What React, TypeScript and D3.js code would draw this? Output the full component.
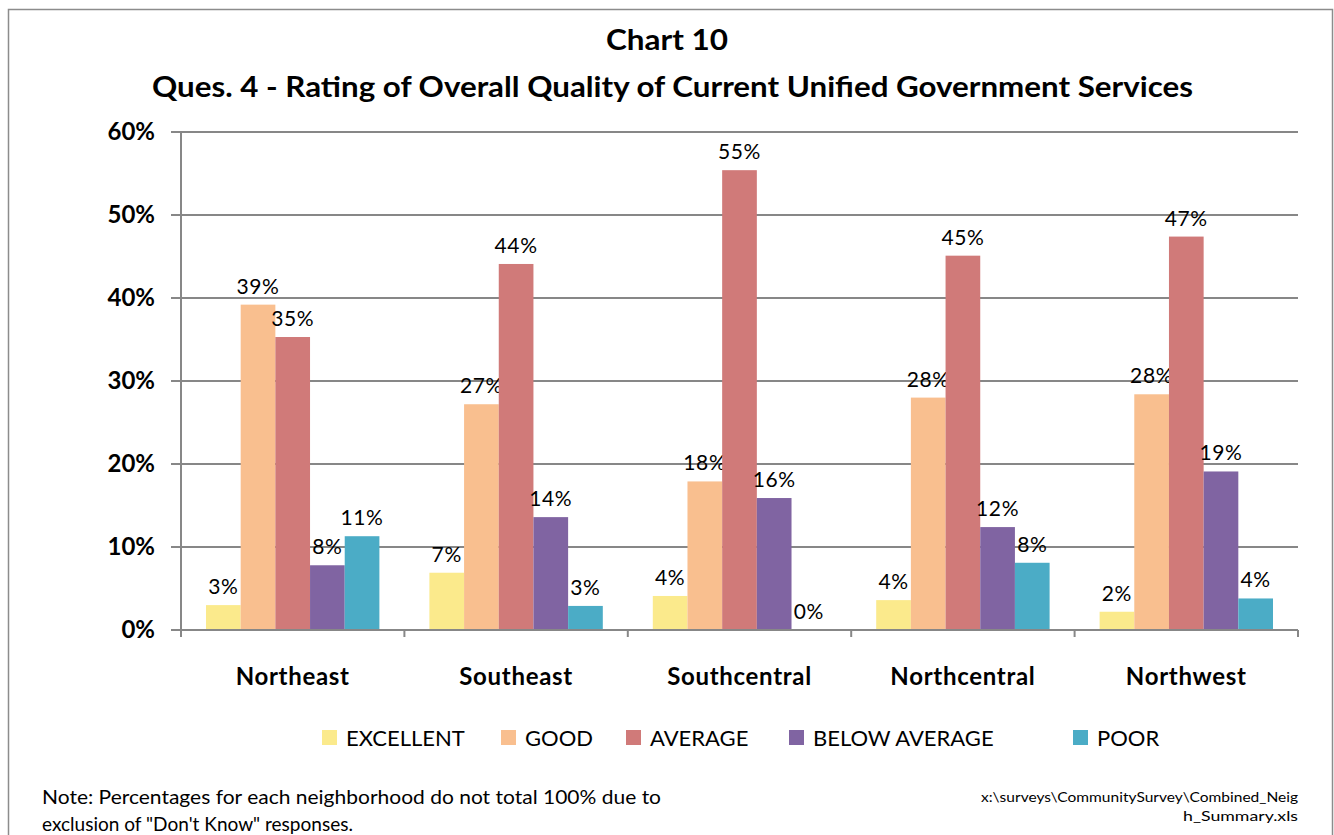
import * as d3 from "d3";

// neighborhoods along the x axis
const categories = ["Northeast", "Southeast", "Southcentral", "Northcentral", "Northwest"];

// one array per rating (percent)
const excellent = [3.0, 6.9, 4.1, 3.6, 2.2];
const good = [39.2, 27.2, 17.9, 28.0, 28.4];
const average = [35.3, 44.1, 55.4, 45.1, 47.4];
const belowAverage = [7.8, 13.6, 15.9, 12.4, 19.1];
const poor = [11.3, 2.9, 0.0, 8.1, 3.8];

const seriesNames = ["EXCELLENT", "GOOD", "AVERAGE", "BELOW AVERAGE", "POOR"];
const yTicks = [0, 10, 20, 30, 40, 50, 60];

const colors = ["#FBEA8C", "#F9BF8F", "#D07A79", "#8064A2", "#4BACC6"];
const legendTextX = [346, 525, 650, 813, 1097];

const FONT = "Lato, 'Open Sans', sans-serif";

export default function App() {
  const W = 1334;
  const H = 835;
  const left = 181;
  const right = 1298;
  const top = 132;
  const bottom = 630;

  const seriesValues = [excellent, good, average, belowAverage, poor];

  const x0 = d3.scaleBand().domain(categories).range([left, right]).padding(0);
  const bw = x0.bandwidth();
  const x1 = d3.scaleBand().domain(seriesNames).range([25, bw - 25]).padding(0);
  const y = d3.scaleLinear().domain([0, 60]).range([bottom, top]);

  const grid = "#878787";

  return (
    <div style={{ position: "absolute", left: 0, top: 0 }}>
      <svg width={W} height={H} style={{ display: "block", background: "#fff" }} fontFamily={FONT}>
        <rect x={8.5} y={9.5} width={1324} height={840} fill="none" stroke="#8c8c8c" strokeWidth={1.5} />

        {/* titles */}
        <text x={667} y={50} textAnchor="middle" fontSize={28} fontWeight="bold" fill="#000"
          textLength={122} lengthAdjust="spacingAndGlyphs">
          Chart 10
        </text>
        <text x={672.5} y={97} textAnchor="middle" fontSize={28} fontWeight="bold" fill="#000"
          textLength={1041} lengthAdjust="spacingAndGlyphs">
          Ques. 4 - Rating of Overall Quality of Current  Unified Government Services
        </text>

        {/* gridlines + y axis */}
        {yTicks.map((t) => (
          <g key={t}>
            {t > 0 && (
              <line x1={left} x2={right} y1={y(t)} y2={y(t)} stroke={grid} strokeWidth={2} />
            )}
            <line x1={171} x2={left} y1={y(t)} y2={y(t)} stroke={grid} strokeWidth={2} />
            <text x={155} y={y(t) + 8} textAnchor="end" fontSize={24} fontWeight="bold" fill="#000">
              {t}%
            </text>
          </g>
        ))}
        <line x1={left} x2={left} y1={top} y2={bottom + 6} stroke={grid} strokeWidth={2} />

        {/* bars */}
        {categories.map((c, ci) => (
          <g key={c} transform={`translate(${x0(c)},0)`}>
            {seriesNames.map((s, si) => {
              const v = seriesValues[si][ci];
              const bx = x1(s) as number;
              return (
                <g key={s}>
                  <rect x={bx} y={y(v)} width={x1.bandwidth()} height={bottom - y(v)} fill={colors[si]} />
                  <text x={bx + x1.bandwidth() / 2} y={y(v) - 11} textAnchor="middle" fontSize={21}
                    letterSpacing={0.6} fill="#000">
                    {Math.round(v)}%
                  </text>
                </g>
              );
            })}
          </g>
        ))}

        {/* x axis */}
        <line x1={left} x2={right} y1={bottom} y2={bottom} stroke={grid} strokeWidth={2} />
        {[...categories.map((c) => x0(c) as number), right].map((tx, i) => (
          <line key={i} x1={tx} x2={tx} y1={bottom} y2={bottom + 7} stroke={grid} strokeWidth={2} />
        ))}
        {categories.map((c) => (
          <text key={c} x={(x0(c) as number) + bw / 2} y={685} textAnchor="middle" fontSize={24}
            letterSpacing={0.7} fontWeight="bold" fill="#000">
            {c}
          </text>
        ))}

        {/* legend */}
        {seriesNames.map((s, i) => (
          <g key={s}>
            <rect x={legendTextX[i] - 24} y={730} width={15} height={15} fill={colors[i]} />
            <text x={legendTextX[i]} y={746} fontSize={22} fill="#000">
              {s}
            </text>
          </g>
        ))}

        {/* notes */}
        <text x={42} y={804} fontSize={19} fill="#000" textLength={619} lengthAdjust="spacingAndGlyphs">
          Note:  Percentages for each neighborhood do not total 100% due to
        </text>
        <text x={42} y={831} fontSize={19} fill="#000" textLength={311} lengthAdjust="spacingAndGlyphs">
          exclusion of "Don't Know" responses.
        </text>
        <text x={1298} y={802} textAnchor="end" fontSize={14} fill="#000" textLength={317} lengthAdjust="spacingAndGlyphs">
          x:\surveys\CommunitySurvey\Combined_Neig
        </text>
        <text x={1298} y={821} textAnchor="end" fontSize={14} fill="#000" textLength={115} lengthAdjust="spacingAndGlyphs">
          h_Summary.xls
        </text>
      </svg>
    </div>
  );
}
